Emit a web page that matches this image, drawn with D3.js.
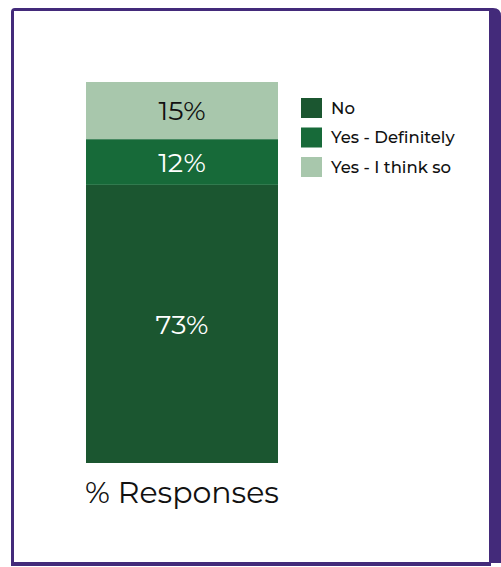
<!DOCTYPE html>
<html>
<head>
<meta charset="utf-8">
<script src="https://cdn.jsdelivr.net/npm/d3@7/dist/d3.min.js"></script>
<style>
  html, body { margin: 0; padding: 0; background: #fff; }
  svg { display: block; }
</style>
</head>
<body>
<svg id="chart" width="501" height="567"></svg>
<script>
// Survey responses, stacked bottom to top
const categories = ["No", "Yes - Definitely", "Yes - I think so"];
const values = [73, 12, 15];
const colors = ["#1b5630", "#176a39", "#a8c7ac"];
const labelColors = ["#ffffff", "#ffffff", "#111111"];
const axisLabel = "% Responses";

const W = 501, H = 567;
const svg = d3.select("#chart");
const font = "Montserrat, 'Open Sans', sans-serif";

// Card frame: thin purple edge with a heavier right-hand side
const frame = svg.append("g");
frame.append("path")
  .attr("d", "M11,12 Q11,8 15,8 L493,8 Q501,8 501,16 L501,563 L491,563 L491,566 L11,566 Z")
  .attr("fill", "#432a7a");
frame.append("rect")
  .attr("x", 14).attr("y", 11)
  .attr("width", 489 - 14).attr("height", 562 - 11)
  .attr("fill", "#ffffff");

// Scales
const x = d3.scaleBand().domain([axisLabel]).range([86, 278]).padding(0);
const y = d3.scaleLinear().domain([0, d3.sum(values)]).range([463, 82]);

const stackData = [Object.fromEntries(categories.map((c, i) => [c, values[i]]))];
const series = d3.stack().keys(categories)(stackData);

const g = svg.append("g");
g.selectAll("rect.seg")
  .data(series)
  .join("rect")
  .attr("class", "seg")
  .attr("x", x(axisLabel))
  .attr("width", x.bandwidth())
  .attr("y", d => y(d[0][1]))
  .attr("height", d => y(d[0][0]) - y(d[0][1]))
  .attr("fill", (d, i) => colors[i]);

g.selectAll("text.val")
  .data(series)
  .join("text")
  .attr("class", "val")
  .attr("x", x(axisLabel) + x.bandwidth() / 2)
  .attr("y", d => (y(d[0][0]) + y(d[0][1])) / 2)
  .attr("dy", "0.36em")
  .attr("text-anchor", "middle")
  .attr("font-family", font)
  .attr("font-size", 27)
  .attr("fill", (d, i) => labelColors[i])
  .text((d, i) => values[i] + "%");

// Category axis label
const xAxis = d3.axisBottom(x).tickSize(0).tickPadding(0);
const axisG = svg.append("g").attr("transform", "translate(0,463)").call(xAxis);
axisG.select(".domain").remove();
axisG.selectAll("text")
  .attr("y", 40)
  .attr("dy", 0)
  .attr("font-family", font)
  .attr("font-size", 30)
  .attr("fill", "#111");

// Legend, top to bottom: No, Yes - Definitely, Yes - I think so
const legend = svg.append("g").attr("transform", "translate(301,98)");
const item = legend.selectAll("g")
  .data(categories)
  .join("g")
  .attr("transform", (d, i) => `translate(0,${i * 29.5})`);
item.append("rect")
  .attr("width", 21).attr("height", 20)
  .attr("fill", (d, i) => colors[i]);
item.append("text")
  .attr("x", 30).attr("y", 10).attr("dy", "0.35em")
  .attr("font-family", font)
  .attr("font-size", 16.5)
  .attr("font-weight", 500)
  .attr("fill", "#111")
  .text(d => d);
</script>
</body>
</html>
